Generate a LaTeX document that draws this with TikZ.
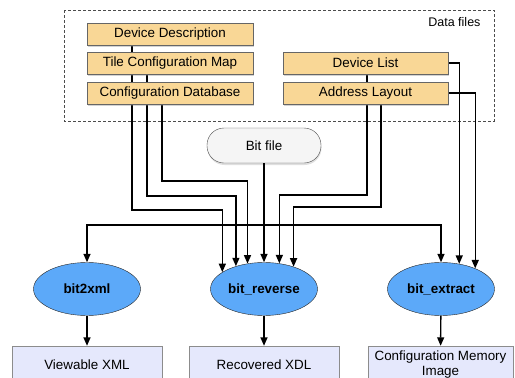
\documentclass[tikz,border=0pt]{standalone}
\usepackage{fontspec}
\setmainfont{Liberation Sans}
\usetikzlibrary{shapes.geometric,arrows.meta,shadows,backgrounds,calc}

\definecolor{filebox}{HTML}{F9D796}
\definecolor{toolblue}{HTML}{5CA9F9}
\definecolor{outbox}{HTML}{E5E8FC}
\definecolor{bitgray}{HTML}{F5F5F5}

\begin{document}
\begin{tikzpicture}[x=1pt,y=-1pt,
    font=\fontsize{13.4}{15}\selectfont,
    file/.style={draw=black!60,fill=filebox,minimum width=166pt,minimum height=22pt,inner sep=0pt,
      drop shadow={shadow xshift=1pt,shadow yshift=-1.5pt,opacity=.35}},
    tool/.style={ellipse,draw=black!85,fill=toolblue,minimum width=107pt,minimum height=53pt,
      inner sep=0pt,font=\fontsize{13.4}{15}\selectfont\bfseries},
    result/.style={draw=black!45,fill=outbox,minimum width=150pt,minimum height=37pt,
      align=center,inner sep=1pt},
    flow/.style={line width=1.4pt,-{Triangle[length=8.5pt,width=7pt]}}]
  \useasboundingbox (0,0) rectangle (515,378);

  % data files
  \node[file] (dd) at (170,34) {Device Description};
  \node[file] (tcm) at (170,63) {Tile Configuration Map};
  \node[file] (cdb) at (170,93) {Configuration Database};
  \node[file,minimum width=165pt] (dl) at (365.5,63) {Device List};
  \node[file,minimum width=165pt] (al) at (365.5,93) {Address Layout};
  \node[anchor=east,font=\fontsize{12.5}{14}\selectfont] (dlab) at (484,22) {Data files};

  \node[draw=black!70,fill=bitgray,rounded corners=17pt,minimum width=114pt,minimum height=35pt,
    drop shadow={shadow xshift=.5pt,shadow yshift=-2pt,opacity=.25}] (bf) at (264,145.5) {Bit file};

  % tools
  \node[tool] (b2x) at (87,289) {bit2xml};
  \node[tool] (brev) at (264,289) {bit\_reverse};
  \node[tool] (bext) at (441,289) {bit\_extract};

  % outputs
  \node[result] (vxml) at (87,364.5) {Viewable XML};
  \node[result] (rxdl) at (264,364.5) {Recovered XDL};
  \node[result,minimum width=145pt] (cmi) at (440.5,364.5) {Configuration Memory\\Image};

  % levels where the wires turn
  \coordinate (lvcdb) at (0,181);
  \coordinate (lvdl) at (0,195);
  \coordinate (lvtcm) at (0,196);
  \coordinate (lval) at (0,207);
  \coordinate (lvdd) at (0,210);
  \coordinate (bus) at (0,225);

  \begin{pgfonlayer}{background}
    \draw[black!70,line width=.8pt,dash pattern=on 3pt off 2pt] (64,10) rectangle (494,121);

    \draw[flow] ($(dd.south west)+(45,0)$) |- (brev.158 |- lvdd) -- (brev.158);
    \draw[flow] ($(tcm.south west)+(60,0)$) |- (brev.141.5 |- lvtcm) -- (brev.141.5);
    \draw[flow] ($(cdb.south west)+(75,0)$) |- (brev.123 |- lvcdb) -- (brev.123);
    \draw[flow] ($(dl.south west)+(84,0)$) |- (brev.59.4 |- lvdl) -- (brev.59.4);
    \draw[flow] ($(al.south west)+(98,0)$) |- (brev.37.2 |- lval) -- (brev.37.2);

    \draw[flow] (dl.east) -| (bext.54);
    \draw[flow] (al.east) -| (bext.31);
  \end{pgfonlayer}

  % bit file goes to every tool
  \draw[flow] (bf) -- (brev);
  \draw[flow] (bf.south |- bus) -| (b2x);
  \draw[flow] (bf.south |- bus) -| (bext);

  \draw[flow] (b2x) -- (vxml);
  \draw[flow] (brev) -- (rxdl);
  \draw[flow] (bext) -- (cmi);
\end{tikzpicture}
\end{document}
